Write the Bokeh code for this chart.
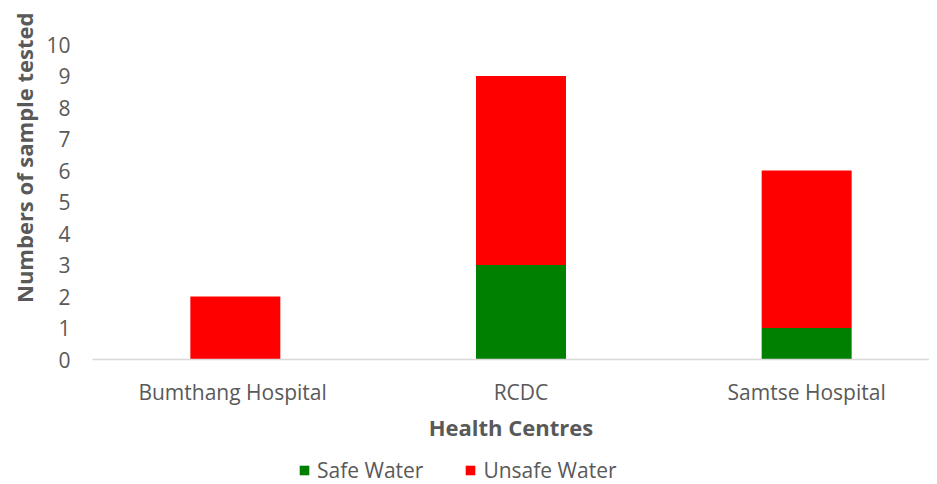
from bokeh.plotting import figure
from bokeh.layouts import column
from bokeh.models import Range1d, FixedTicker, Legend, LegendItem, ColumnDataSource, Title
from bokeh.embed import file_html
from bokeh.resources import INLINE

categories = ["Bumthang  Hospital", "RCDC", "Samtse Hospital"]
safe_water = [0, 3, 1]
unsafe_water = [2, 6, 5]
y_ticks = [0, 1, 2, 3, 4, 5, 6, 7, 8, 9, 10]
series_names = ["Safe Water", "Unsafe Water"]
series_colors = ["#008000", "#ff0000"]

positions = list(range(len(categories)))
source = ColumnDataSource(dict(x=positions, safe=safe_water, unsafe=unsafe_water))

FONT = "Open Sans"
GREY = "#595959"

p = figure(frame_width=837, frame_height=315, output_backend="svg", toolbar_location=None,
           x_range=Range1d(-0.5, 2.43), y_range=Range1d(0, 10),
           min_border_left=92, min_border_top=44, min_border_right=0, min_border_bottom=89)
p.outline_line_color = None
p.xgrid.visible = False
p.ygrid.visible = False

r = p.vbar_stack(["safe", "unsafe"], x="x", width=0.315, source=source,
                 color=series_colors, line_color=None)

p.xaxis.ticker = FixedTicker(ticks=positions)
p.xaxis.major_label_overrides = {i: c for i, c in enumerate(categories)}
p.xaxis.major_tick_line_color = None
p.xaxis.minor_tick_line_color = None
p.xaxis.axis_line_color = "#d9d9d9"
p.xaxis.axis_line_width = 1.5
p.xaxis.major_label_text_font = FONT
p.xaxis.major_label_text_font_size = "21px"
p.xaxis.major_label_text_color = GREY
p.xaxis.major_label_standoff = 12
p.xaxis.axis_label = "Health Centres"
p.xaxis.axis_label_text_font = FONT
p.xaxis.axis_label_text_font_size = "22px"
p.xaxis.axis_label_text_font_style = "bold"
p.xaxis.axis_label_text_color = GREY
p.xaxis.axis_label_standoff = 3

p.yaxis.ticker = FixedTicker(ticks=y_ticks)
p.yaxis.axis_line_color = None
p.yaxis.major_tick_line_color = None
p.yaxis.minor_tick_line_color = None
p.yaxis.major_label_text_font = FONT
p.yaxis.major_label_text_font_size = "21px"
p.yaxis.major_label_text_color = GREY
p.yaxis.major_label_standoff = 16

ytitle = Title(text="Numbers of sample tested", align="right", offset=-32,
               text_font=FONT, text_font_size="22px", text_font_style="bold",
               text_color=GREY)
p.add_layout(ytitle, "left")

# legend strip
p2 = figure(width=929, height=36, output_backend="svg", toolbar_location=None,
            x_range=Range1d(0, 1), y_range=Range1d(0, 1),
            min_border_left=0, min_border_right=0, min_border_top=0, min_border_bottom=0)
p2.outline_line_color = None
p2.axis.visible = False
p2.grid.visible = False
dummy = [p2.rect(x=[-5], y=[-5], width=0.1, height=0.1, color=c, line_color=None)
         for c in series_colors]
legend = Legend(items=[LegendItem(label=n, renderers=[d]) for n, d in zip(series_names, dummy)],
                orientation="horizontal", location=(206, 0),
                label_text_font=FONT, label_text_font_size="21px", label_text_color=GREY,
                glyph_width=12, glyph_height=12, spacing=41, label_standoff=7,
                border_line_color=None, background_fill_alpha=0, margin=0, padding=0)
p2.add_layout(legend)

layout = column(p, p2, spacing=0)
open("out.html", "w").write(file_html(layout, INLINE))
